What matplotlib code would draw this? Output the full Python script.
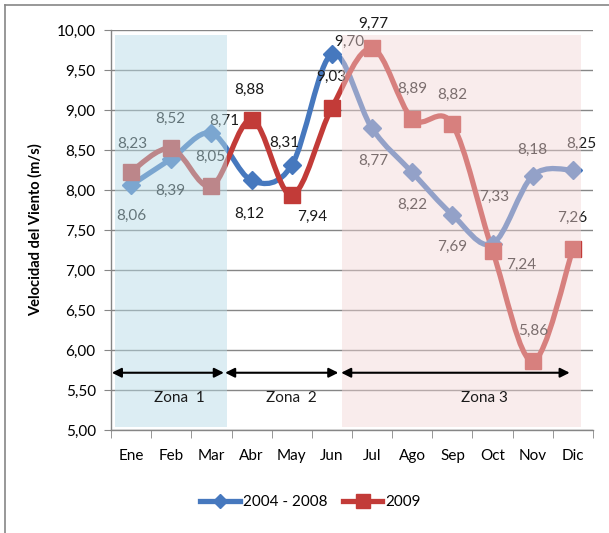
import numpy as np
import matplotlib
matplotlib.use("Agg")
import matplotlib.pyplot as plt
from matplotlib.path import Path
from matplotlib.patches import PathPatch, Rectangle
from matplotlib.lines import Line2D
from matplotlib.ticker import FuncFormatter, MultipleLocator

# --- data ---
MONTHS = ["Ene", "Feb", "Mar", "Abr", "May", "Jun",
          "Jul", "Ago", "Sep", "Oct", "Nov", "Dic"]
V_2004_2008 = [8.06, 8.39, 8.71, 8.12, 8.31, 9.70, 8.77, 8.22, 7.69, 7.33, 8.18, 8.25]
V_2009 = [8.23, 8.52, 8.05, 8.88, 7.94, 9.03, 9.77, 8.89, 8.82, 7.24, 5.86, 7.26]
SERIES_NAMES = ["2004 - 2008", "2009"]
ZONE_NAMES = ["Zona  1", "Zona  2", "Zona 3"]

# label offsets (pixels) for each data label, as placed in the original
OFF_BLUE = [(0, -31), (-1, -32), (13, 12), (-2, -33), (-7, 22), (17, 12),
            (1, -32), (0, -32), (0, -32), (2, 47), (0, 26), (8, 26)]
OFF_RED = [(1, 28), (-1, 30), (-1, 29), (-2, 30), (20, -22), (-1, 31),
           (1, 25), (0, 30), (0, 30), (29, -14), (0, 30), (-1, 31)]

BLUE = "#4678BE"
RED = "#C23B38"
GRID = "#868686"
FONT = ["Lato", "DejaVu Sans"]

plt.rcParams["font.family"] = FONT


def smooth_path(xs, ys):
    # Excel-style smoothed line: cubic Bezier segments (Catmull-Rom tangents)
    pts = np.column_stack([xs, ys]).astype(float)
    n = len(pts)
    verts, codes = [pts[0]], [Path.MOVETO]
    for i in range(n - 1):
        p0, p1 = pts[max(i - 1, 0)], pts[i]
        p2, p3 = pts[i + 1], pts[min(i + 2, n - 1)]
        verts += [p1 + (p2 - p0) / 6, p2 - (p3 - p1) / 6, p2]
        codes += [Path.CURVE4] * 3
    return Path(verts, codes)


def fmt(v):
    return f"{v:.2f}".replace(".", ",")


fig = plt.figure(figsize=(6.09, 5.33), dpi=100)
ax = fig.add_axes([0.1823, 0.1932, 0.7914, 0.7505])
x = np.arange(len(MONTHS))

# gridlines
ax.set_ylim(5, 10)
ax.set_xlim(-0.5, 11.5)
ax.yaxis.set_major_locator(MultipleLocator(0.5))
ax.grid(axis="y", color=GRID, lw=1, zorder=0)
ax.set_axisbelow(True)

# series
for vals, col, marker, ms, offs in [(V_2004_2008, BLUE, "D", 9, OFF_BLUE),
                                    (V_2009, RED, "s", 12, OFF_RED)]:
    ax.add_patch(PathPatch(smooth_path(x, vals), fill=False, edgecolor=col,
                           lw=3.8, capstyle="round", joinstyle="round", zorder=3))
    ax.plot(x, vals, ls="none", marker=marker, ms=ms, color=col,
            mec=col, zorder=3.5)
    for xi, v, (dx, dy) in zip(x, vals, offs):
        ax.annotate(fmt(v), (xi, v), xytext=(dx, dy), textcoords="offset pixels",
                    ha="center", va="center", fontsize=11, color="#1a1a1a",
                    zorder=4)

# translucent zone panels drawn over the lines (as in the original)
ax.add_patch(Rectangle((-0.40, 5.04), 2.785, 4.90, facecolor="#B7DBE6",
                       alpha=0.475, lw=0, zorder=5))
ax.add_patch(Rectangle((5.24, 5.04), 5.97, 4.90, facecolor="#F2D5D5",
                       alpha=0.45, lw=0, zorder=5))

# zone arrows and names
zone_start = [-0.48, 2.34, 5.23]
zone_end = [2.31, 5.16, 10.92]
zone_text_x = [1.21, 3.98, 8.79]
for name, x0, x1, xt in zip(ZONE_NAMES, zone_start, zone_end, zone_text_x):
    ax.annotate("", xy=(x1, 5.716), xytext=(x0, 5.716),
                arrowprops=dict(arrowstyle="<|-|>", color="black", lw=1.5,
                                mutation_scale=14, shrinkA=0, shrinkB=0),
                zorder=6)
    ax.text(xt, 5.40, name, ha="center", va="center", fontsize=11,
            color="#1a1a1a", zorder=6)

# axes styling
for s in ["top", "right"]:
    ax.spines[s].set_visible(False)
for s in ["left", "bottom"]:
    ax.spines[s].set_color(GRID)
    ax.spines[s].set_linewidth(1)
ax.yaxis.set_major_formatter(FuncFormatter(lambda v, _: fmt(v)))
ax.tick_params(axis="y", length=5, color=GRID, pad=6, labelsize=11)
ax.set_xticks(x)
ax.set_xticklabels(MONTHS)
ax.set_xticks(np.arange(-0.5, 12, 1), minor=True)
ax.tick_params(axis="x", which="major", length=0, pad=14, labelsize=11)
ax.tick_params(axis="x", which="minor", length=6, color=GRID)
ax.set_ylabel("Velocidad del Viento (m/s)", fontsize=10.5, fontweight="bold",
              labelpad=10)

# legend
handles = [Line2D([], [], color=BLUE, lw=3.8, marker="D", ms=7),
           Line2D([], [], color=RED, lw=3.8, marker="s", ms=10)]
fig.legend(handles, SERIES_NAMES, loc="center", bbox_to_anchor=(0.51, 0.058),
           ncol=2, frameon=False, fontsize=11, handlelength=2.6,
           handletextpad=0.2, columnspacing=1.0)

# outer chart border (left and top visible in the original crop)
fig.add_artist(Line2D([5 / 609, 5 / 609], [0, 1 - 5 / 533],
                      transform=fig.transFigure, color=GRID, lw=1.2))
fig.add_artist(Line2D([5 / 609, 1], [1 - 5 / 533, 1 - 5 / 533],
                      transform=fig.transFigure, color=GRID, lw=1.2))

fig.savefig("out.png", dpi=100)
